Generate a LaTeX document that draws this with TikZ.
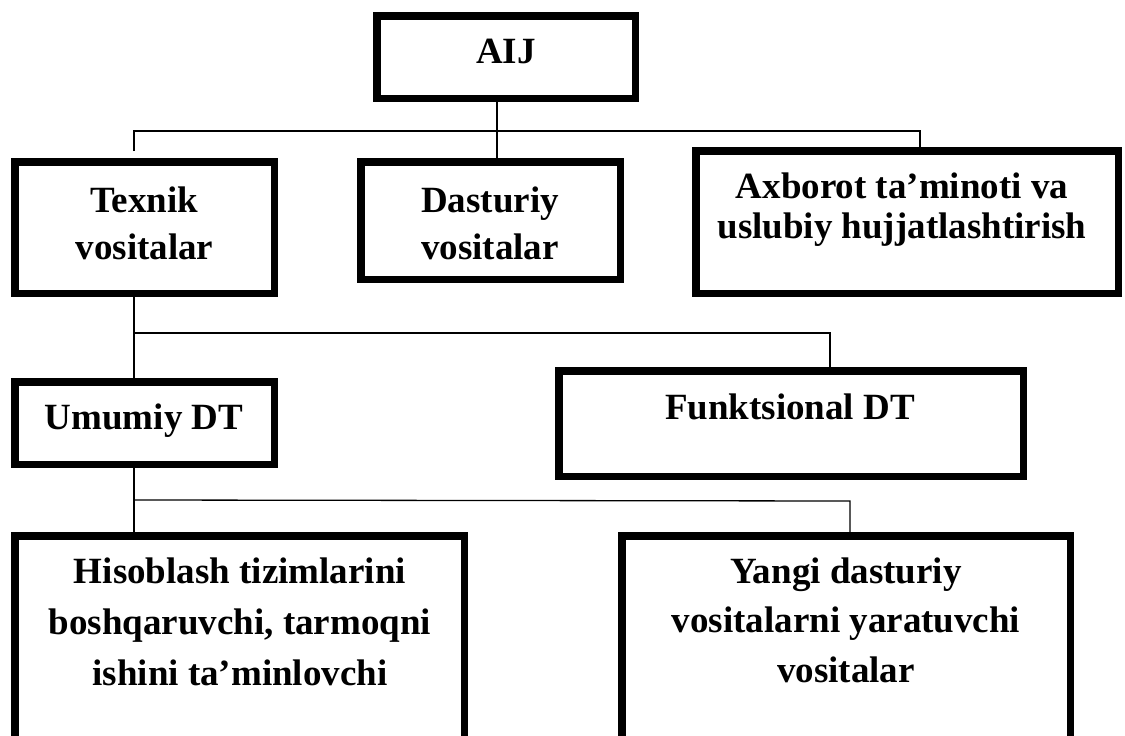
\documentclass[tikz,border=0pt]{standalone}
\usepackage{fontspec}
\setmainfont{Liberation Serif}
\begin{document}
\begin{tikzpicture}[x=1pt,y=-1pt,
  box/.style={draw, line width=7.5pt, inner sep=0pt, rectangle},
  lbl/.style={font=\bfseries\fontsize{37}{47}\selectfont, align=center, inner sep=0pt, anchor=base},
  conn/.style={line width=1.3pt}]
\useasboundingbox (0,0) rectangle (1125,736);
\clip (0,0) rectangle (1125,736);
% boxes
\node[box, minimum width=258.5pt, minimum height=82.5pt]  (aij) at (506,57) {};
\node[box, minimum width=259.5pt, minimum height=131.5pt] (tex) at (144.5,227.5) {};
\node[box, minimum width=259.5pt, minimum height=117.5pt] (das) at (490.5,220.5) {};
\node[box, minimum width=422.5pt, minimum height=142.5pt] (axb) at (907,222) {};
\node[box, minimum width=259.5pt, minimum height=82.5pt]  (umu) at (144.5,423) {};
\node[box, minimum width=464.5pt, minimum height=105.5pt] (fun) at (791,423.5) {};
\node[box, minimum width=449.5pt, minimum height=240.5pt] (his) at (239.5,656) {};
\node[box, minimum width=448.5pt, minimum height=240.5pt] (yan) at (846,656) {};
% texts (base anchor = baseline of the last line)
\node[lbl] (aijT) at (506,63) {AIJ};
\node[lbl] (texT) at (144.5,259) {Texnik\\vositalar};
\node[lbl] (dasT) at (490,259) {Dasturiy\\vositalar};
\node[lbl, font=\bfseries\fontsize{37}{40}\selectfont] (axbT) at (902,238) {Axborot ta’minoti va\\uslubiy hujjatlashtirish};
\node[lbl] (umuT) at (144,429) {Umumiy DT};
\node[lbl] (funT) at (790,419) {Funktsional DT};
\node[lbl, font=\bfseries\fontsize{37}{51}\selectfont] (hisT) at (240,685) {Hisoblash tizimlarini\\boshqaruvchi, tarmoqni\\ishini ta’minlovchi};
\node[lbl, font=\bfseries\fontsize{37}{49.5}\selectfont] (yanT) at (846,682) {Yangi dasturiy\\vositalarni yaratuvchi\\vositalar};
% junctions
\coordinate (h1l) at (134,131);
\coordinate (h1m) at (497,131);
\coordinate (h1r) at (920,131);
\coordinate (texn) at (134,151);
\coordinate (h2l) at (134,333);
\coordinate (h2r) at (830,333);
\coordinate (h3l) at (134,500);
\coordinate (h3r) at (850,501);
% connectors
\draw[conn] (h1m |- aij.south) -- (h1m) -- (h1m |- das.north);
\draw[conn] (texn) -- (h1l) -- (h1r) -- (h1r |- axb.north);
\draw[conn] (h2l |- tex.south) -- (h2l |- umu.north);
\draw[conn] (h2l) -- (h2r) -- (h2r |- fun.north);
\draw[conn] (h3l |- umu.south) -- (h3l |- his.north);
\draw[conn] (h3l) -- (h3r) -- (h3r |- yan.north);
\end{tikzpicture}
\end{document}
